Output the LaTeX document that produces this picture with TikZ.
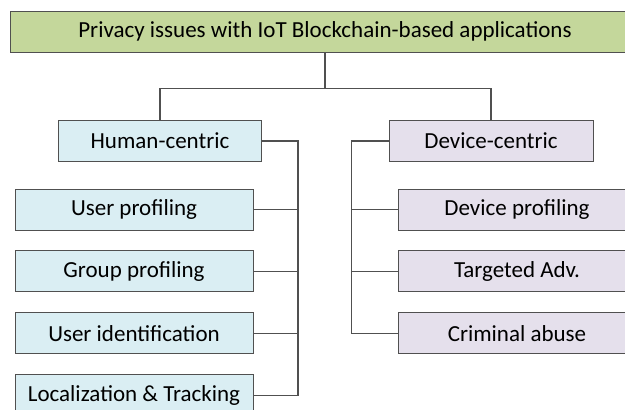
\documentclass[tikz,border=0pt]{standalone}
\usepackage{fontspec}
\setmainfont{Carlito}
\usetikzlibrary{positioning}

\definecolor{topgreen}{HTML}{C4D79B}
\definecolor{humanblue}{HTML}{DAEEF3}
\definecolor{devicelilac}{HTML}{E5E0EC}
\definecolor{edgegray}{HTML}{505050}

\begin{document}
\begin{tikzpicture}[
    x=1pt, y=-1pt,
    node distance=20pt,
    block/.style={rectangle, draw=edgegray, line width=0.9pt, inner sep=0pt, minimum height=41pt, align=center, font=\fontsize{23}{27}\selectfont},
    leaf/.style={block, minimum width=238pt},
    link/.style={draw=edgegray, line width=1.1pt}
]
\useasboundingbox (0,0) rectangle (625,410);
\clip (0,0) rectangle (625,410);

\node[block, fill=topgreen, minimum width=630pt] (title) at (325,31.5) {Privacy issues with IoT Blockchain-based applications};

\node[block, fill=humanblue, minimum width=203pt] (human) at (160,141) {Human-centric};
\node[block, fill=devicelilac, minimum width=204pt] (device) at (491,141) {Device-centric};

% human-centric leaves
\node[leaf, fill=humanblue] (userprof) at (134,209.5) {User profiling};
\node[leaf, fill=humanblue, below=of userprof] (groupprof) {Group profiling};
\node[leaf, fill=humanblue, below=of groupprof] (userid) {User identification};
\node[leaf, fill=humanblue, below=of userid] (loctrack) {Localization \& Tracking};

% device-centric leaves
\node[leaf, fill=devicelilac] (devprof) at (517,209.5) {Device profiling};
\node[leaf, fill=devicelilac, below=of devprof] (targadv) {Targeted Adv.};
\node[leaf, fill=devicelilac, below=of targadv] (crimabuse) {Criminal abuse};

% tree
\draw[link] (title.south) -- ++(0,36) coordinate (split);
\draw[link] (human.north) |- (split) -| (device.north);

\draw[link] (human.east) -- ++(36,0) coordinate (hbus) |- (loctrack.east);
\foreach \n in {userprof, groupprof, userid}
    \draw[link] (\n.east) -- (\n.east -| hbus);

\draw[link] (device.west) -- ++(-37,0) coordinate (dbus) |- (crimabuse.west);
\foreach \n in {devprof, targadv}
    \draw[link] (\n.west) -- (\n.west -| dbus);
\end{tikzpicture}
\end{document}
